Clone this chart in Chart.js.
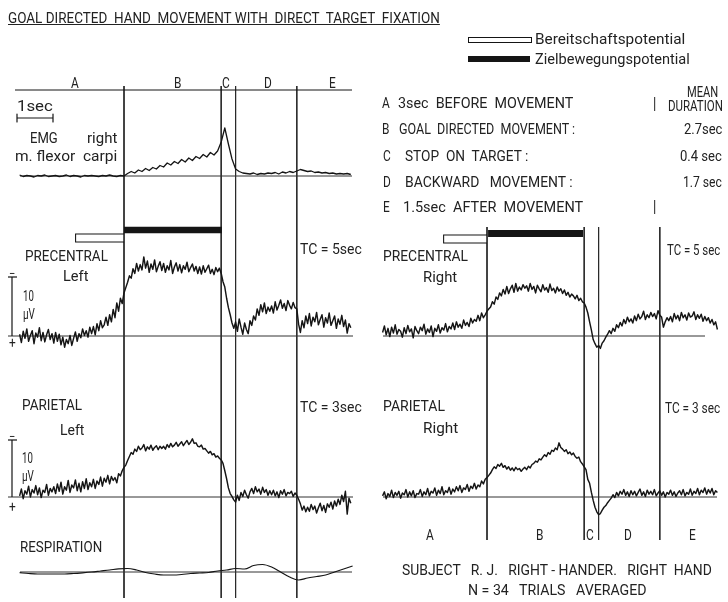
<!DOCTYPE html>
<html><head><meta charset="utf-8">
<script src="https://cdn.jsdelivr.net/npm/chart.js@4.4.1/dist/chart.umd.min.js"></script>
<style>
html,body{margin:0;padding:0;background:#fff;}
#fig{position:relative;width:728px;height:602px;overflow:hidden;background:#fff;}
#fig canvas{position:absolute;top:0;}
.t{position:absolute;white-space:pre;font-family:Roboto,"DejaVu Sans",sans-serif;font-weight:400;color:#222;line-height:1;transform-origin:0 50%;}
.sw{position:absolute;box-sizing:border-box;}
</style></head><body>
<div id="fig">
<canvas id="cl" width="364" height="602" style="left:0"></canvas>
<canvas id="cr" width="364" height="602" style="left:364px"></canvas>
</div>
<script>
// ---------------- DATA ----------------
// time (s) relative to movement onset
const EEG_T0 = -2.9, EEG_DT = 0.05;   // EEG samples every 0.05 s
const EMG_T0 = -2.9, EMG_DT = 0.1;
const RESP_T0 = -2.9, RESP_DT = 0.25;
// phase boundaries (s): start of B, C, D, E
const eventTimes = [0, 2.7, 3.1, 4.8];
// Bereitschaftspotential / Zielbewegungspotential periods (s)
const bpLeft = [-1.36, 0], zbpLeft = [0, 2.72];
const bpRight = [-1.22, 0], zbpRight = [0.03, 2.67];
// EMG right m. flexor carpi (arbitrary units)
const emgRight = [
 0.2,-0.1,0.1,0.0,-0.2,0.1,0.0,0.2,-0.1,0.0,
 0.1,-0.1,0.0,0.2,-0.1,0.1,0.0,-0.2,0.1,0.0,
 0.1,0.0,-0.1,0.1,0.0,0.2,0.0,-0.1,0.1,0.0,
 0.5,0.9,0.6,1.2,0.9,1.5,1.1,1.7,1.4,2.1,
 1.8,2.6,2.2,2.9,2.5,3.3,2.8,3.6,3.1,3.9,
 3.5,4.3,3.8,4.7,4.2,5.0,6.8,9.6,6.4,3.4,
 1.4,0.9,0.6,0.5,0.4,0.6,0.3,0.5,0.4,0.6,
 0.5,0.7,0.4,0.8,0.6,0.9,0.7,1.0,1.3,1.1,
 0.9,1.0,0.7,0.8,0.6,0.7,0.5,0.6,0.4,0.5,
 0.4,0.5,0.3];
// Precentral left, surface negativity (µV, up = negative), TC = 5 s
const precentralLeft = [
 0.3,-1.1,0.8,-0.4,1.2,-0.9,0.1,0.9,-1.3,0.5,-0.2,1.4,-0.8,0.6,-1.0,0.2,1.1,-0.6,0.4,-1.2,
 0.6,-0.9,0.3,-1.5,-0.2,-1.9,-0.6,-1.3,0.1,-1.6,-0.4,0.7,-0.9,0.4,-0.3,1.2,0.1,0.9,-0.2,1.5,
 0.4,1.6,0.2,2.1,0.9,2.6,1.4,1.9,3.2,1.8,3.6,2.4,4.5,3.1,5.6,4.2,6.4,5.5,7.3,8.2,
 9.1,10.2,9.8,11.4,10.6,12.3,11.0,12.1,11.2,13.4,11.5,12.7,10.8,12.2,11.3,12.9,10.9,11.8,12.6,11.1,
 12.3,10.8,11.9,11.2,12.8,10.6,11.7,12.4,11.0,12.1,10.7,11.9,11.3,12.5,10.9,11.6,12.2,11.0,11.8,10.6,
 11.7,10.5,11.9,10.8,11.4,12.0,10.6,11.3,10.4,11.6,10.9,11.5,10.6,9.2,8.3,6.4,4.8,3.6,2.2,1.3,
 2.4,0.8,2.9,1.5,0.3,2.2,1.1,0.4,2.6,1.8,3.4,2.7,4.6,3.5,5.3,4.1,5.6,3.8,4.9,4.2,
 5.1,3.9,5.8,4.4,5.2,6.1,4.7,5.5,4.3,6.0,5.2,4.6,5.7,4.8,4.6,2.0,0.6,2.6,1.4,3.4,
 2.1,3.8,1.7,3.2,2.4,4.0,1.9,2.8,3.6,1.5,3.1,2.2,3.9,1.8,2.6,3.4,1.3,2.9,2.0,3.5,
 1.6,2.7,0.5,2.1,1.4];
// Parietal left (µV), TC = 3 s
const parietalLeft = [
 0.2,1.4,-0.3,1.1,0.5,1.9,0.0,1.3,0.7,2.0,0.4,1.6,-0.1,1.2,0.8,2.2,0.3,1.5,0.9,1.8,
 0.6,2.3,1.0,2.6,0.5,1.8,1.2,2.9,0.8,2.1,1.6,3.0,1.1,2.4,0.9,2.7,1.5,3.2,1.3,2.5,
 1.8,3.1,1.5,2.8,2.2,3.5,1.9,3.3,2.6,3.8,2.3,3.6,2.9,3.4,2.5,4.1,3.7,4.6,5.2,5.6,
 6.4,7.1,7.8,7.5,8.4,8.0,8.9,8.3,8.6,9.2,8.1,8.8,8.4,9.1,8.2,8.7,9.0,8.3,8.9,8.5,
 8.9,8.4,9.2,8.7,9.4,8.8,9.1,9.6,8.9,9.3,9.7,9.0,9.5,9.9,9.2,9.6,10.2,9.4,9.5,8.9,
 8.8,9.1,8.4,8.5,8.1,7.7,8.0,7.4,7.6,7.0,7.2,6.8,6.5,5.9,4.6,3.2,1.6,0.6,0.1,-0.5,
 -0.9,0.3,-0.6,0.8,0.1,1.2,0.4,-0.2,0.9,1.5,0.6,1.8,0.9,1.4,0.5,1.7,0.8,1.3,0.3,1.1,
 0.4,1.2,0.2,0.9,-0.1,1.1,0.5,1.3,0.2,0.8,0.6,1.0,0.1,0.7,0.3,-0.4,-1.2,-2.3,-1.6,-2.6,
 -1.8,-2.5,-1.3,-2.2,-1.6,-2.8,-1.9,-1.1,-2.4,-1.5,-2.7,-1.2,-1.8,-0.9,-2.1,-0.7,-1.6,-0.4,-1.3,0.3,
 -0.8,1.0,-3.0,-0.2,-1.1];
// Respiration (arbitrary units, up = positive)
const respiration = [
 -0.7,-1.5,-2,-2,-2,-2,-1.5,-0.8,0,1,
 2,3.2,3.5,2,-0.5,-2,-3,-3,-2.5,-1.5,
 -1,-0.5,1,2,3.5,3,6.5,7.5,5,0,
 -5,-8,-6,-4.5,-3,0,3,6];
// Precentral right (µV), TC = 5 s
const precentralRight = [
 0.6,1.7,0.2,1.3,-0.1,1.5,0.5,1.9,0.3,1.1,0.8,-0.2,1.4,0.4,1.8,0.7,1.2,-0.3,1.6,0.9,
 0.4,1.5,0.9,2.0,0.3,1.2,0.6,1.7,-0.1,1.3,0.8,1.9,0.5,1.4,1.0,2.1,0.7,1.6,1.2,2.2,
 1.1,2.4,1.5,2.0,1.3,2.7,1.8,2.3,1.6,3.0,2.2,2.8,2.5,3.5,2.6,3.9,3.1,3.6,4.2,4.6,
 4.9,5.8,5.4,6.6,6.2,7.3,6.8,7.9,7.1,8.4,7.2,8.0,8.6,7.4,8.9,7.6,8.3,7.8,8.7,8.1,
 8.5,7.6,8.9,7.9,8.4,7.3,8.6,8.0,7.5,8.7,7.8,8.2,7.4,8.8,7.7,8.1,7.3,8.3,7.6,8.0,
 7.2,7.8,6.9,7.4,6.6,7.1,6.8,6.3,6.9,6.0,6.4,5.8,5.6,4.9,3.9,2.4,1.0,-0.6,-1.3,-1.9,
 -1.6,-2.1,-1.2,-0.8,-0.2,0.3,0.9,0.4,1.3,0.8,1.9,1.4,2.3,1.7,2.8,2.1,3.2,2.4,2.9,2.2,
 3.4,2.6,3.7,2.9,3.3,4.2,2.8,3.6,3.1,4.0,3.3,3.8,2.9,4.3,3.5,3.2,1.5,2.4,3.1,2.6,
 3.3,2.4,3.8,2.9,3.5,2.6,4.0,3.1,3.6,2.7,3.9,3.2,3.4,4.1,2.8,3.6,3.0,3.7,2.5,3.3,
 2.6,3.1,2.2,2.8,1.9,2.4,1.1];
// Parietal right (µV), TC = 3 s
const parietalRight = [
 0.2,0.9,-0.3,0.6,0.1,1.2,-0.1,0.8,0.3,1.0,-0.2,0.7,0.4,1.3,0.0,0.9,0.2,1.1,-0.1,0.6,
 0.5,1.3,0.1,0.9,0.4,1.5,0.2,1.0,0.7,1.6,0.3,1.2,0.6,1.8,0.4,1.1,0.8,1.7,0.5,1.4,
 0.9,1.8,1.1,2.0,0.8,1.6,1.3,2.2,1.0,1.9,1.5,2.4,1.4,2.1,1.8,2.8,2.3,3.1,3.4,3.8,
 4.2,4.8,5.3,5.0,5.7,5.4,5.9,5.2,5.5,4.9,5.3,4.7,5.1,4.6,5.2,4.8,5.0,4.5,4.9,5.2,
 4.8,5.4,5.1,5.7,5.9,6.3,6.1,6.7,6.5,7.0,7.4,7.1,7.8,7.5,8.2,8.0,8.6,8.3,9.5,8.7,
 8.4,8.0,8.3,7.6,7.9,7.4,7.7,7.1,6.8,7.0,6.2,5.8,5.3,4.8,3.1,2.4,0.8,-0.6,-1.8,-2.6,
 -3.1,-2.9,-2.3,-1.8,-1.5,-1.0,-0.6,-0.2,0.4,-0.1,0.8,0.2,1.0,0.5,1.3,0.3,0.9,0.1,1.1,0.4,
 1.0,0.2,0.8,1.4,0.3,0.9,0.1,1.2,0.5,1.0,0.4,1.3,0.2,0.7,1.1,0.3,0.9,0.0,0.8,0.5,
 1.2,0.3,0.9,0.1,0.7,1.1,0.4,1.3,0.2,0.8,0.5,1.4,0.3,1.0,0.6,1.5,0.4,1.2,0.8,1.6,
 0.5,1.3,0.7,1.5,0.4,1.1,0.8];
const scaleBarMicroV = 10;   // calibration bar
const timeBarSec = 1;        // "1sec" bar

// ---------------- LAYOUT ----------------
const H = 602, PX_PER_S = 36;
const LEFT_ONSET = 124, RIGHT_ONSET = 123; // px inside each canvas
const INK = '#151515';

function series(vals, t0, dt) { return vals.map((v, i) => ({x: +(t0 + i * dt).toFixed(3), y: v})); }
function gainAxis(base, k) { return {type: 'linear', display: false, min: -(H - base) / k, max: base / k}; }
function seg(x0, x1, y0, y1) { return [{x: x0, y: y0}, {x: x1, y: y1}]; }
function ds(data, yAxisID, w, color, order, extra) {
  return Object.assign({type: 'line', data, yAxisID, xAxisID: 'x', borderColor: color || INK, borderWidth: w,
    pointRadius: 0, pointHoverRadius: 0, fill: false, tension: 0, borderJoinStyle: 'round', order: order || 5}, extra || {});
}
function xOf(px, onset) { return (px - onset) / PX_PER_S; }

function makeChart(id, onset, scales, datasets) {
  return new Chart(document.getElementById(id), {
    type: 'line',
    data: {datasets},
    options: {
      responsive: false, animation: false, devicePixelRatio: 1, events: [],
      layout: {padding: 0},
      plugins: {legend: {display: false}, tooltip: {enabled: false}},
      scales: Object.assign({
        x: {type: 'linear', display: false, min: -onset / PX_PER_S, max: (364 - onset) / PX_PER_S},
        yLay: {type: 'linear', display: false, min: 0, max: H, reverse: true}
      }, scales)
    }
  });
}

// ---- left panel ----
const L = [];
const xl = px => xOf(px, LEFT_ONSET);
L.push(ds(seg(xl(15), xl(352), 90, 90), 'yLay', 1, INK));
const tb0 = xl(17);
L.push(ds(seg(tb0, tb0 + timeBarSec, 118, 118), 'yLay', 1.2, INK));
L.push(ds(seg(tb0, tb0, 114, 122), 'yLay', 1.2, INK));
L.push(ds(seg(tb0 + timeBarSec, tb0 + timeBarSec, 114, 122), 'yLay', 1.2, INK));
eventTimes.forEach(t => L.push(ds(seg(t, t, 86, 598), 'yLay', 1, '#2a2a2a', 8)));
L.push(ds(seg(bpLeft[0], bpLeft[1], 238, 238), 'yLay', 9, INK, 4));
L.push(ds(seg(bpLeft[0] + 0.03, bpLeft[1] - 0.02, 238, 238), 'yLay', 7, '#ffffff', 3));
L.push(ds(seg(zbpLeft[0], zbpLeft[1], 230, 230), 'yLay', 6.5, INK, 4));
L.push(ds(seg(xl(20), xl(352), 0, 0), 'yEmg', 1, '#333', 6));
L.push(ds(seg(xl(8), xl(353), 0, 0), 'yPre', 1, '#333', 6));
L.push(ds(seg(xl(8), xl(353), 0, 0), 'yPar', 1, '#333', 6));
L.push(ds(seg(xl(20), xl(352), 0, 0), 'yResp', 1, '#333', 6));
['yPre', 'yPar'].forEach(ax => {
  L.push(ds(seg(xl(12), xl(12), 0, scaleBarMicroV), ax, 1.2, INK));
  L.push(ds(seg(xl(8), xl(17), scaleBarMicroV, scaleBarMicroV), ax, 1.2, INK));
});
L.push(ds(series(emgRight, EMG_T0, EMG_DT), 'yEmg', 1.3, INK, 1));
L.push(ds(series(precentralLeft, EEG_T0, EEG_DT), 'yPre', 1.45, INK, 1));
L.push(ds(series(parietalLeft, EEG_T0, EEG_DT), 'yPar', 1.45, INK, 1));
L.push(ds(series(respiration, RESP_T0, RESP_DT), 'yResp', 1.2, INK, 1, {cubicInterpolationMode: 'monotone'}));
makeChart('cl', LEFT_ONSET, {
  yEmg: gainAxis(176, 5), yPre: gainAxis(336, 5.9), yPar: gainAxis(497, 5.7), yResp: gainAxis(572, 1)
}, L);

// ---- right panel ----
const R = [];
const xr = px => xOf(px, RIGHT_ONSET);
eventTimes.forEach(t => R.push(ds(seg(t, t, 227, 540), 'yLay', 1, '#2a2a2a', 8)));
R.push(ds(seg(bpRight[0], bpRight[1], 239, 239), 'yLay', 9, INK, 4));
R.push(ds(seg(bpRight[0] + 0.03, bpRight[1] - 0.02, 239, 239), 'yLay', 7, '#ffffff', 3));
R.push(ds(seg(zbpRight[0], zbpRight[1], 233.5, 233.5), 'yLay', 7, INK, 4));
R.push(ds(seg(xr(19), xr(341), 0, 0), 'yPre', 1, '#333', 6));
R.push(ds(seg(xr(19), xr(353), 0, 0), 'yPar', 1, '#333', 6));
R.push(ds(series(precentralRight, EEG_T0, EEG_DT), 'yPre', 1.45, INK, 1));
R.push(ds(series(parietalRight, EEG_T0, EEG_DT), 'yPar', 1.45, INK, 1));
makeChart('cr', RIGHT_ONSET, {yPre: gainAxis(336, 5.9), yPar: gainAxis(497, 5.7)}, R);

// ---------------- TEXT ----------------
// [text, x, yCenter, targetWidth, fontSize, anchor, underline]
const texts = [
 ['GOAL DIRECTED  HAND  MOVEMENT WITH  DIRECT  TARGET  FIXATION', 8, 18, 432, 15, 'l', true],
 ['Bereitschaftspotential', 535, 39, 150, 14, 'l'],
 ['Zielbewegungspotential', 535, 59, 155, 14, 'l'],
 ['A', 75, 83, 0, 14, 'c'], ['B', 178, 83, 0, 14, 'c'], ['C', 226, 83, 0, 14, 'c'],
 ['D', 268, 83, 0, 14, 'c'], ['E', 332, 83, 0, 14, 'c'],
 ['1sec', 17, 106, 36, 14, 'l'],
 ['EMG', 30, 138, 28, 14, 'l'], ['right', 87, 138, 30, 14, 'l'],
 ['m. flexor  carpi', 15, 156, 102, 14, 'l'],
 ['PRECENTRAL', 25, 256, 83, 14, 'l'], ['Left', 63, 276, 25, 14, 'l'],
 ['\u2212', 12, 273, 0, 13, 'c'], ['10', 23, 296, 11, 14, 'l'], ['\u00b5V', 23, 314, 12, 14, 'l'], ['+', 12, 343, 0, 14, 'c'],
 ['TC = 5sec', 300, 249, 62, 14, 'l'],
 ['PARIETAL', 22, 405, 60, 14, 'l'], ['Left', 60, 430, 24, 14, 'l'],
 ['\u2212', 12, 436, 0, 13, 'c'], ['10', 22, 458, 11, 14, 'l'], ['\u00b5V', 22, 476, 12, 14, 'l'], ['+', 12, 507, 0, 14, 'c'],
 ['TC = 3sec', 300, 407, 62, 14, 'l'],
 ['RESPIRATION', 20, 547, 82, 14, 'l'],
 ['A', 382, 103, 0, 14, 'l'], ['3sec  BEFORE  MOVEMENT', 398, 103, 175, 14, 'l'],
 ['B', 382, 129, 0, 14, 'l'], ['GOAL  DIRECTED  MOVEMENT :', 399, 129, 176, 14, 'l'],
 ['C', 383, 156, 0, 14, 'l'], ['STOP  ON  TARGET :', 405, 156, 123, 14, 'l'],
 ['D', 383, 182, 0, 14, 'l'], ['BACKWARD   MOVEMENT :', 405, 182, 168, 14, 'l'],
 ['E', 383, 207, 0, 14, 'l'], ['1.5sec  AFTER  MOVEMENT', 403, 207, 180, 14, 'l'],
 ['MEAN', 702, 92, 31, 14, 'c'], ['DURATION', 695, 106, 55, 14, 'c'],
 ['|', 655, 104, 0, 16, 'c'], ['|', 655, 207, 0, 16, 'c'],
 ['2.7sec', 722, 129, 38, 14, 'r'], ['0.4 sec', 722, 156, 42, 14, 'r'], ['1.7 sec', 722, 182, 39, 14, 'r'],
 ['PRECENTRAL', 383, 256, 85, 14, 'l'], ['Right', 423, 277, 34, 14, 'l'],
 ['TC = 5 sec', 667, 250, 53, 14, 'l'],
 ['PARIETAL', 383, 406, 62, 14, 'l'], ['Right', 423, 428, 35, 14, 'l'],
 ['TC = 3 sec', 665, 408, 55, 14, 'l'],
 ['A', 430, 535, 0, 14, 'c'], ['B', 540, 535, 0, 14, 'c'], ['C', 590, 535, 0, 14, 'c'],
 ['D', 628, 535, 0, 14, 'c'], ['E', 692, 535, 0, 14, 'c'],
 ['SUBJECT   R. J.   RIGHT - HANDER.   RIGHT  HAND', 402, 570, 310, 14, 'l'],
 ['N = 34   TRIALS   AVERAGED', 468, 590, 179, 14, 'l']
];
const fig = document.getElementById('fig');
const els = texts.map(d => {
  const e = document.createElement('div');
  e.className = 't'; e.textContent = d[0];
  e.style.fontSize = d[4] + 'px';
  if (d[6]) e.style.textDecoration = 'underline';
  fig.appendChild(e); return e;
});
function place() {
  texts.forEach((d, i) => {
    const e = els[i];
    e.style.transform = 'none';
    const w = e.offsetWidth, h = e.offsetHeight;
    const s = d[3] ? d[3] / w : 0.85;
    const vw = w * s;
    const left = d[5] === 'c' ? d[1] - vw / 2 : d[5] === 'r' ? d[1] - vw : d[1];
    e.style.left = left + 'px';
    e.style.top = (d[2] - h / 2) + 'px';
    e.style.transform = 'scaleX(' + s.toFixed(4) + ')';
  });
}
place();
if (document.fonts && document.fonts.ready) document.fonts.ready.then(place);
// legend swatches
[[468, 37, 64, 6, '#fff'], [468, 56, 62, 6, INK]].forEach(([x, y, w, h, c]) => {
  const s = document.createElement('div'); s.className = 'sw';
  Object.assign(s.style, {left: x + 'px', top: y + 'px', width: w + 'px', height: h + 'px', background: c, border: '1px solid ' + INK});
  fig.appendChild(s);
});
</script>
</body></html>
